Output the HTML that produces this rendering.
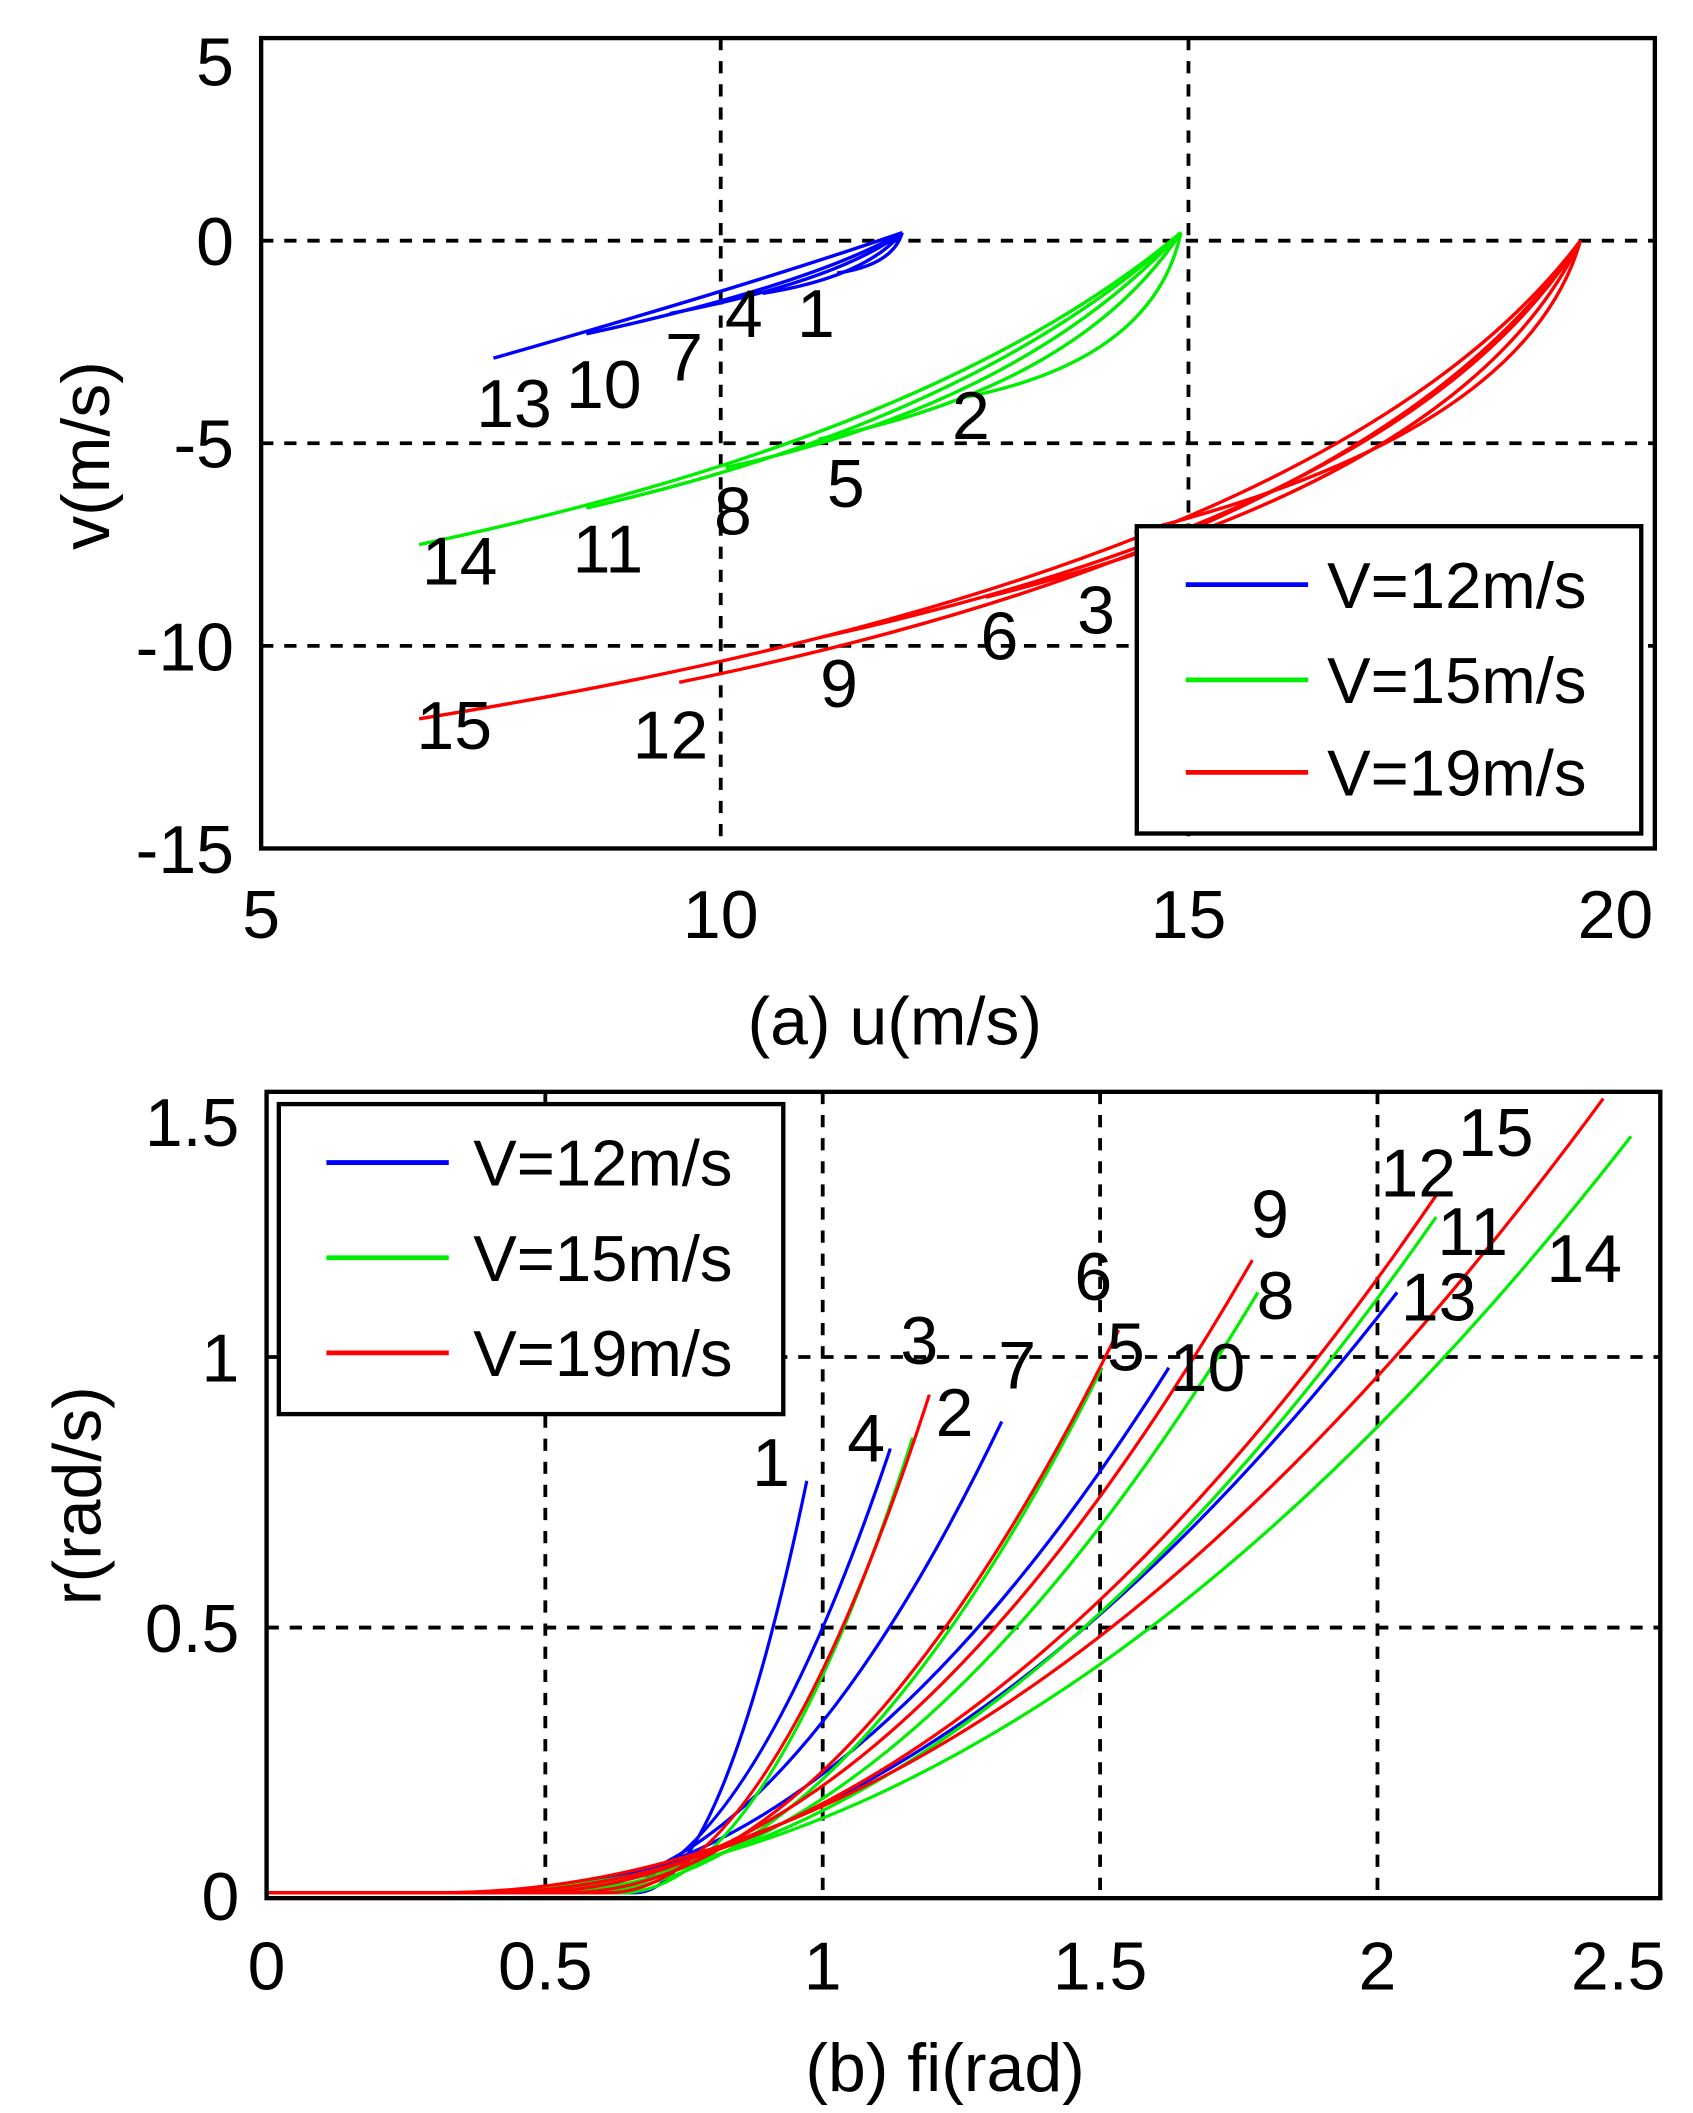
<!DOCTYPE html>
<html><head><meta charset="utf-8"><style>
html,body{margin:0;padding:0;background:#fff;}
svg{display:block;}
text{font-family:"Liberation Sans",sans-serif;fill:#000;}
</style></head><body>
<svg width="1693" height="2113" viewBox="0 0 1245 1554" xmlns="http://www.w3.org/2000/svg">
<rect width="1245" height="1554" fill="#fff"/>
<!-- ===== Plot (a) ===== -->
<g stroke="#000" stroke-width="2.8" stroke-dasharray="9,8" fill="none">
<line x1="530" y1="28" x2="530" y2="624"/><line x1="874" y1="28" x2="874" y2="624"/>
<line x1="192" y1="177" x2="1217" y2="177"/><line x1="192" y1="326" x2="1217" y2="326"/><line x1="192" y1="475" x2="1217" y2="475"/>
</g>
<g transform="translate(-149.65,177) scale(68.33,-29.8)" fill="none" stroke-width="3.4">
<g stroke="#0000ff">
<path vector-effect="non-scaling-stroke" d="M11.9,0.2 Q11.8,-0.6 11.2,-0.8"/>
<path vector-effect="non-scaling-stroke" d="M11.9,0.2 Q11.5,-0.9 10.4,-1.3"/>
<path vector-effect="non-scaling-stroke" d="M11.9,0.2 Q11.2,-1.0 9.4,-1.8"/>
<path vector-effect="non-scaling-stroke" d="M11.9,0.2 Q10.9,-1.1 8.5,-2.3"/>
<path vector-effect="non-scaling-stroke" d="M11.9,0.2 Q10.4,-1.0 7.5,-2.9"/>
</g>
<g stroke="#00ee00">
<path vector-effect="non-scaling-stroke" d="M14.9,0.2 Q14.6,-3.0 12.5,-3.9"/>
<path vector-effect="non-scaling-stroke" d="M14.9,0.2 Q13.8,-3.6 11,-4.9"/>
<path vector-effect="non-scaling-stroke" d="M14.9,0.2 Q13.2,-4.0 10,-5.6"/>
<path vector-effect="non-scaling-stroke" d="M14.9,0.2 Q12.7,-4.4 8.5,-6.6"/>
<path vector-effect="non-scaling-stroke" d="M14.9,0.2 Q12.3,-4.8 6.7,-7.5"/>
</g>
<g stroke="#ff0000">
<path vector-effect="non-scaling-stroke" d="M19.2,0 Q18.6,-4.8 14.4,-7.2"/>
<path vector-effect="non-scaling-stroke" d="M19.2,0 Q18.0,-5.8 12.8,-8.8"/>
<path vector-effect="non-scaling-stroke" d="M19.2,0 Q17.4,-6.6 11,-9.8"/>
<path vector-effect="non-scaling-stroke" d="M19.2,0 Q17.0,-7.4 9.5,-10.9"/>
<path vector-effect="non-scaling-stroke" d="M19.2,0 Q16.5,-8.2 6.7,-11.8"/>
</g>
</g>
<rect x="192" y="28" width="1025" height="596" fill="none" stroke="#000" stroke-width="3.2"/>
<g font-size="50" text-anchor="middle">
<text x="600" y="248">1</text><text x="547" y="248">4</text><text x="503" y="280">7</text>
<text x="444" y="300">10</text><text x="378" y="314">13</text><text x="714" y="323">2</text>
<text x="622" y="373">5</text><text x="539" y="393">8</text><text x="447" y="421">11</text>
<text x="338" y="430">14</text><text x="806" y="466">3</text><text x="735" y="485">6</text>
<text x="617" y="520">9</text><text x="493" y="558">12</text><text x="334" y="551">15</text>
</g>
<rect x="836" y="387" width="371" height="226" fill="#fff" stroke="#000" stroke-width="3.2"/>
<g stroke-width="3.5"><line x1="872" y1="430" x2="962" y2="430" stroke="#0000ff"/><line x1="872" y1="500" x2="962" y2="500" stroke="#00ee00"/><line x1="872" y1="568" x2="962" y2="568" stroke="#ff0000"/></g>
<g font-size="48"><text x="976" y="447">V=12m/s</text><text x="976" y="517">V=15m/s</text><text x="976" y="585">V=19m/s</text></g>
<g font-size="50" text-anchor="end">
<text x="172" y="63">5</text><text x="172" y="195">0</text><text x="172" y="344">-5</text><text x="172" y="493">-10</text><text x="172" y="642">-15</text>
</g>
<g font-size="50" text-anchor="middle">
<text x="192" y="690">5</text><text x="530" y="690">10</text><text x="874" y="690">15</text><text x="1188" y="690">20</text>
<text x="658" y="768">(a)    u(m/s)</text>
</g>
<text font-size="50" text-anchor="middle" transform="translate(80,335) rotate(-90)">v(m/s)</text>
<!-- ===== Plot (b) ===== -->
<g stroke="#000" stroke-width="2.8" stroke-dasharray="9,8" fill="none">
<line x1="401" y1="803" x2="401" y2="1396"/><line x1="605" y1="803" x2="605" y2="1396"/><line x1="809" y1="803" x2="809" y2="1396"/><line x1="1013" y1="803" x2="1013" y2="1396"/>
<line x1="196" y1="998" x2="1221" y2="998"/><line x1="196" y1="1197" x2="1221" y2="1197"/>
</g>
<g transform="translate(196,1394) scale(409.6,-396)" fill="none" stroke-width="3.2">
<g stroke="#0000ff">
<path vector-effect="non-scaling-stroke" d="M0.45,0.005 L0.66,0.005 Q0.815,0 0.97,0.77"/>
<path vector-effect="non-scaling-stroke" d="M0.45,0.005 L0.583,0.005 Q0.851,0 1.12,0.83"/>
<path vector-effect="non-scaling-stroke" d="M0.45,0.005 L0.506,0.005 Q0.913,0 1.32,0.88"/>
<path vector-effect="non-scaling-stroke" d="M0.429,0.005 Q1.024,0 1.62,0.98"/>
<path vector-effect="non-scaling-stroke" d="M0.351,0.005 Q1.19,0 2.03,1.12"/>
</g>
<g stroke="#00ee00">
<path vector-effect="non-scaling-stroke" d="M0.3,0.005 L0.634,0.005 Q0.897,0 1.16,0.85"/>
<path vector-effect="non-scaling-stroke" d="M0.3,0.005 L0.557,0.005 Q1.029,0 1.5,0.98"/>
<path vector-effect="non-scaling-stroke" d="M0.3,0.005 L0.48,0.005 Q1.13,0 1.78,1.12"/>
<path vector-effect="non-scaling-stroke" d="M0.3,0.005 L0.403,0.005 Q1.25,0 2.1,1.26"/>
<path vector-effect="non-scaling-stroke" d="M0.3,0.005 L0.326,0.005 Q1.388,0 2.45,1.41"/>
</g>
<g stroke="#ff0000">
<path vector-effect="non-scaling-stroke" d="M0,0.005 L0.609,0.005 Q0.899,0 1.19,0.93"/>
<path vector-effect="non-scaling-stroke" d="M0,0.005 L0.531,0.005 Q1.031,0 1.53,1.05"/>
<path vector-effect="non-scaling-stroke" d="M0,0.005 L0.454,0.005 Q1.112,0 1.77,1.18"/>
<path vector-effect="non-scaling-stroke" d="M0,0.005 L0.377,0.005 Q1.24,0 2.1,1.30"/>
<path vector-effect="non-scaling-stroke" d="M0,0.005 L0.3,0.005 Q1.35,0 2.4,1.48"/>
</g>
</g>
<rect x="196" y="803" width="1025" height="593" fill="none" stroke="#000" stroke-width="3.2"/>
<g font-size="50" text-anchor="middle">
<text x="567" y="1093">1</text><text x="637" y="1075">4</text><text x="676" y="1003">3</text>
<text x="702" y="1056">2</text><text x="748" y="1021">7</text><text x="804" y="956">6</text>
<text x="828" y="1008">5</text><text x="888" y="1023">10</text><text x="934" y="910">9</text>
<text x="938" y="970">8</text><text x="1043" y="880">12</text><text x="1100" y="850">15</text>
<text x="1083" y="923">11</text><text x="1058" y="971">13</text><text x="1165" y="943">14</text>
</g>
<rect x="205" y="812" width="371" height="228" fill="#fff" stroke="#000" stroke-width="3.2"/>
<g stroke-width="3.5"><line x1="240" y1="855" x2="330" y2="855" stroke="#0000ff"/><line x1="240" y1="925" x2="330" y2="925" stroke="#00ee00"/><line x1="240" y1="995" x2="330" y2="995" stroke="#ff0000"/></g>
<g font-size="48"><text x="348" y="872">V=12m/s</text><text x="348" y="942">V=15m/s</text><text x="348" y="1012">V=19m/s</text></g>
<g font-size="50" text-anchor="end">
<text x="176" y="843">1.5</text><text x="176" y="1016">1</text><text x="176" y="1215">0.5</text><text x="176" y="1412">0</text>
</g>
<g font-size="50" text-anchor="middle">
<text x="196" y="1463">0</text><text x="401" y="1463">0.5</text><text x="605" y="1463">1</text><text x="809" y="1463">1.5</text><text x="1013" y="1463">2</text><text x="1190" y="1463">2.5</text>
<text x="695" y="1538">(b)    fi(rad)</text>
</g>
<text font-size="50" text-anchor="middle" transform="translate(74,1100) rotate(-90)">r(rad/s)</text>
</svg>
</body></html>
